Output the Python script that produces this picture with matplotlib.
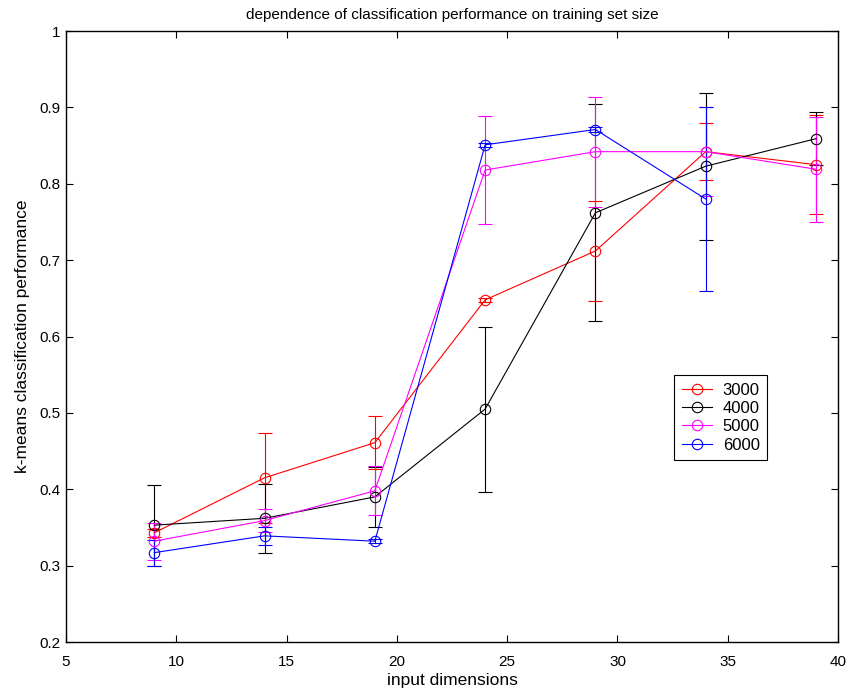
import numpy as np
import matplotlib
matplotlib.use('Agg')
import matplotlib.pyplot as plt
from matplotlib.lines import Line2D

plt.rcParams['font.family'] = ['Liberation Sans', 'DejaVu Sans']

dims = [9, 14, 19, 24, 29, 34, 39]

# 3000
perf_3000 = [0.343, 0.415, 0.461, 0.648, 0.712, 0.842, 0.825]
err_3000 = [0.005, 0.059, 0.035, 0.003, 0.065, 0.037, 0.065]
# 4000
perf_4000 = [0.353, 0.362, 0.390, 0.505, 0.762, 0.823, 0.859]
err_4000 = [0.053, 0.045, 0.039, 0.108, 0.142, 0.096, 0.035]
# 5000
perf_5000 = [0.332, 0.359, 0.398, 0.818, 0.842, 0.842, 0.819]
err_5000 = [0.024, 0.015, 0.032, 0.071, 0.072, 0.058, 0.069]
# 6000 (no point at 39)
perf_6000 = [0.317, 0.339, 0.332, 0.851, 0.871, 0.780]
err_6000 = [0.017, 0.012, 0.003, 0.003, 0.003, 0.121]

series = [('3000', 'red', dims, perf_3000, err_3000),
          ('4000', 'black', dims, perf_4000, err_4000),
          ('5000', 'magenta', dims, perf_5000, err_5000),
          ('6000', 'blue', dims[:6], perf_6000, err_6000)]

fig = plt.figure(figsize=(8.51, 6.89), dpi=100)
ax = fig.add_axes([0.0776, 0.0682, 0.9072, 0.8868])

handles = []
for name, col, x, y, e in series:
    ax.errorbar(x, y, yerr=e, color=col, marker='o', markersize=7.5,
                markerfacecolor='none', markeredgewidth=0.8, linewidth=0.8,
                elinewidth=0.8, capsize=5, capthick=0.8)
    handles.append(Line2D([], [], color=col, marker='o', markersize=7.5,
                          markerfacecolor='none', markeredgewidth=0.8,
                          linewidth=0.8, label=name))

ax.set_xlim(5, 40)
ax.set_ylim(0.2, 1.0)
ax.set_xticks(np.arange(5, 41, 5))
ax.set_yticks(np.arange(0.2, 1.01, 0.1))
ax.set_yticklabels(['0.2', '0.3', '0.4', '0.5', '0.6', '0.7', '0.8', '0.9', '1'])
ax.tick_params(direction='in', top=True, right=True, labelsize=11, length=5, width=0.8)
ax.tick_params(axis='x', pad=9)
ax.tick_params(axis='y', pad=4)
for s in ax.spines.values():
    s.set_linewidth(1.0)
ax.set_xlabel('input dimensions', fontsize=12.5, labelpad=3)
ax.set_ylabel('k-means classification performance', fontsize=12.5, labelpad=7)
ax.set_title('dependence of classification performance on training set size', fontsize=11, pad=9)

leg = ax.legend(handles=handles, loc='upper left', bbox_to_anchor=(0.788, 0.437), fontsize=12,
                frameon=True, fancybox=False, edgecolor='black', framealpha=1,
                handlelength=1.8, borderpad=0.45, labelspacing=0.2, handletextpad=0.65,
                borderaxespad=0)
leg.get_frame().set_linewidth(0.8)

fig.savefig('out.png', dpi=100)
